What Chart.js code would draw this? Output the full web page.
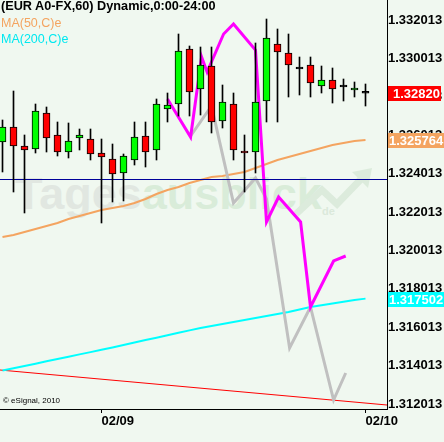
<!DOCTYPE html>
<html>
<head>
<meta charset="utf-8">
<script src="https://cdn.jsdelivr.net/npm/chart.js@4/dist/chart.umd.min.js"></script>
<style>
html,body{margin:0;padding:0;background:#f0f8f0;overflow:hidden}
#wrap{position:relative;width:444px;height:442px}
#c{position:absolute;left:0;top:0;z-index:1}
.wm{position:absolute;z-index:0;font-family:"Liberation Sans",Arial,sans-serif;font-weight:bold;white-space:nowrap}
.txt{position:absolute;z-index:2;font-family:"Liberation Sans",Arial,sans-serif;white-space:nowrap;line-height:14px}
</style>
</head>
<body>
<div id="wrap">
  <div class="wm" style="left:15px;top:168px;font-size:45px;line-height:52px;"><span style="color:#e1e7e1">Tages</span><span style="color:#d9ecd9">ausblick</span></div>
  <div class="wm" style="left:322px;top:205px;font-size:11px;color:#dbe9db;">de</div>
  <svg style="position:absolute;left:0;top:0;z-index:0" width="444" height="442"><polyline points="296,214 322,190 337,204 364,176" fill="none" stroke="#dcebdc" stroke-width="7"/><polygon points="352,172 372,168 368,188" fill="#dcebdc"/></svg>
  <canvas id="c" width="444" height="442"></canvas>
  <div class="txt" style="left:1px;top:-1px;font-size:12.7px;font-weight:bold;color:#000">(EUR A0-FX,60) Dynamic,0:00-24:00</div>
  <div class="txt" style="left:1px;top:16px;font-size:12.5px;color:#f4a460">MA(50,C)e</div>
  <div class="txt" style="left:1px;top:32px;font-size:12.5px;color:#00e8f0">MA(200,C)e</div>
  <div class="txt" style="left:3px;top:396px;font-size:8px;line-height:10px;color:#000">© eSignal, 2010</div>
</div>
<script>
// ---- data (hourly candles, index 0..33) ----
const opens  = [1.325659,1.326441,1.325451,1.325295,1.327170,1.326024,1.325138,1.325867,1.325815,1.325086,1.324774,1.324045,1.324722,1.325972,1.325243,1.327378,1.327638,1.330503,1.328420,1.329617,1.326753,1.327638,1.325190,1.325138,1.327795,1.330763,1.330295,1.329461,1.329670,1.328576,1.328888,1.328524,1.328368,1.328200];
const highs  = [1.326805,1.328315,1.326024,1.327638,1.327482,1.326701,1.326649,1.326336,1.326336,1.325815,1.325555,1.325034,1.326701,1.326701,1.327899,1.328211,1.331284,1.330659,1.330607,1.330607,1.328628,1.328211,1.326024,1.330815,1.332065,1.331545,1.331284,1.330086,1.330086,1.329617,1.329513,1.328940,1.328784,1.328680];
const lows   = [1.324097,1.323055,1.321962,1.325086,1.325138,1.324930,1.324826,1.325243,1.324722,1.321441,1.322535,1.322587,1.324461,1.324357,1.324722,1.326701,1.327013,1.327013,1.327065,1.326128,1.326388,1.324722,1.323055,1.324045,1.326701,1.326701,1.328003,1.328107,1.328003,1.328211,1.327690,1.327795,1.328003,1.327534];
const closes = [1.326441,1.325451,1.325243,1.327274,1.325867,1.325138,1.325711,1.326024,1.325034,1.324878,1.323993,1.324930,1.325920,1.325138,1.327638,1.327586,1.330399,1.328263,1.329670,1.326701,1.327743,1.325243,1.325086,1.327743,1.331076,1.330347,1.329670,1.329461,1.328732,1.328888,1.328420,1.328524,1.328472,1.328200];
const ma50   = [1.320712,1.320816,1.320972,1.321128,1.321285,1.321441,1.321649,1.321805,1.321962,1.322118,1.322222,1.322326,1.322482,1.322691,1.322951,1.323159,1.323316,1.323524,1.323680,1.323836,1.323888,1.323993,1.324097,1.324305,1.324514,1.324722,1.324878,1.325034,1.325190,1.325347,1.325503,1.325607,1.325711,1.325764];
const ma200  = [1.313753,1.313873,1.313993,1.314112,1.314237,1.314357,1.314477,1.314597,1.314716,1.314836,1.314961,1.315086,1.315217,1.315342,1.315466,1.315592,1.315722,1.315847,1.315972,1.316076,1.316180,1.316284,1.316383,1.316487,1.316592,1.316696,1.316810,1.316940,1.317066,1.317159,1.317248,1.317342,1.317435,1.317502];
// projection lines (x = candle index, y = price)
const magentaX = [15.0,17.1,18.1,18.6,20.1,21.0,23.0,24.0,25.1,27.1,28.0,30.1,31.2];
const magentaY = [1.327899,1.325920,1.330086,1.329305,1.331284,1.331805,1.330451,1.321493,1.322795,1.321493,1.317066,1.319462,1.319722];
const grayX = [17.1,19.0,21.0,23.0,24.0,26.1,28.0,30.1,31.2];
const grayY = [1.325972,1.327534,1.322482,1.323784,1.322691,1.314930,1.317066,1.312222,1.313628];
// trend line and horizontal line
const trendX = [-0.2273,34.9545];
const trendY = [1.313784,1.311961];
const hLineX = [-0.2273,34.9545];
const hLineY = [1.323706,1.323706];
// ticks
const xTickPos = [9,33];
const xTickLabels = ['02/09','02/10'];
const yTickValues = [1.312013,1.314013,1.316013,1.318013,1.320013,1.322013,1.324013,1.326013,1.328013,1.330013,1.332013];

const N = closes.length;
const idx = closes.map((_, i) => i);
const pts = (xs, ys) => xs.map((x, i) => ({x: x, y: ys[i]}));
const bodyColor = idx.map(i => closes[i] > opens[i] ? '#00ff00' : (closes[i] < opens[i] ? '#ff0000' : '#000000'));

const FONT = '"Liberation Sans", Arial, sans-serif';

const priceBoxes = {
  id: 'priceBoxes',
  afterDraw(chart) {
    const {ctx, chartArea} = chart;
    const y = chart.scales.y;
    const items = [
      {v: ma200[N-1], bg: '#00ffff', d: 6, pad: 1, extra: 2},
      {v: ma50[N-1], bg: '#f4a460', d: 6, pad: 1, extra: 2},
      {v: closes[N-1], bg: '#ff0000', d: 5, pad: 5, extra: 1}
    ];
    ctx.save();
    ctx.font = 'bold 13px ' + FONT;
    ctx.textBaseline = 'middle';
    ctx.textAlign = 'left';
    items.forEach(it => {
      const py = Math.round(y.getPixelForValue(it.v));
      const t = it.v.toFixed(it.d);
      const w = ctx.measureText(t).width;
      ctx.fillStyle = it.bg;
      ctx.fillRect(chartArea.right + 1, py - 7, w + it.pad + it.extra, 15);
      ctx.fillStyle = '#ffffff';
      ctx.fillText(t, chartArea.right + 1 + it.pad, py + 1);
    });
    ctx.restore();
  }
};

new Chart(document.getElementById('c'), {
  type: 'bar',
  data: {
    datasets: [
      {
        type: 'bar', label: 'body', order: 0, grouped: false,
        data: idx.map(i => ({x: i, y: [opens[i], closes[i]]})),
        backgroundColor: bodyColor, borderColor: '#000', borderWidth: 1,
        borderSkipped: false, barThickness: 7, minBarLength: 2
      },
      {
        type: 'bar', label: 'wick', order: 1, grouped: false,
        data: idx.map(i => ({x: i, y: [lows[i], highs[i]]})),
        backgroundColor: '#000', borderWidth: 0, barThickness: 1
      },
      { type: 'line', label: 'hline', order: 2, data: pts(hLineX, hLineY), borderColor: '#00009a', borderWidth: 1, pointRadius: 0, tension: 0 },
      { type: 'line', label: 'magenta', order: 3, data: pts(magentaX, magentaY), borderColor: '#ff00ff', borderWidth: 3, pointRadius: 0, tension: 0 },
      { type: 'line', label: 'gray', order: 4, data: pts(grayX, grayY), borderColor: '#c0c0c0', borderWidth: 3, pointRadius: 0, tension: 0 },
      { type: 'line', label: 'MA200', order: 5, data: pts(idx, ma200), borderColor: '#00ffff', borderWidth: 2, pointRadius: 0, tension: 0 },
      { type: 'line', label: 'MA50', order: 6, data: pts(idx, ma50), borderColor: '#f4a460', borderWidth: 2, pointRadius: 0, tension: 0 },
      { type: 'line', label: 'trend', order: 7, data: pts(trendX, trendY), borderColor: '#ff0000', borderWidth: 1, pointRadius: 0, tension: 0 }
    ]
  },
  options: {
    responsive: false,
    devicePixelRatio: 1,
    animation: false,
    events: [],
    layout: { padding: 0 },
    plugins: { legend: { display: false }, tooltip: { enabled: false }, title: { display: false } },
    scales: {
      x: {
        type: 'linear', offset: false, min: -0.2273, max: 34.9545,
        afterBuildTicks: s => { s.ticks = xTickPos.map(v => ({value: v})); },
        afterFit: s => { s.height = 33; s.paddingLeft = 0; s.paddingRight = 0; },
        grid: { display: true, offset: false, drawOnChartArea: false, drawTicks: true, tickLength: 4, color: '#000' },
        border: { display: true, color: '#000', width: 1 },
        ticks: {
          autoSkip: false, maxRotation: 0, align: 'start', padding: 1,
          color: '#000', font: { family: FONT, size: 13, weight: 'bold' },
          callback: (v, i) => xTickLabels[i]
        }
      },
      y: {
        type: 'linear', position: 'right', min: 1.311753, max: 1.333055,
        afterBuildTicks: s => { s.ticks = yTickValues.map(v => ({value: v})); },
        afterFit: s => { s.width = 57; s.paddingTop = 0; s.paddingBottom = 0; },
        grid: { display: false, drawTicks: false },
        border: { display: true, color: '#000', width: 1 },
        ticks: {
          autoSkip: false, padding: 1,
          color: '#000', font: { family: FONT, size: 13, weight: 'bold' },
          callback: v => Number(v).toFixed(6)
        }
      }
    }
  },
  plugins: [priceBoxes]
});
</script>
</body>
</html>
